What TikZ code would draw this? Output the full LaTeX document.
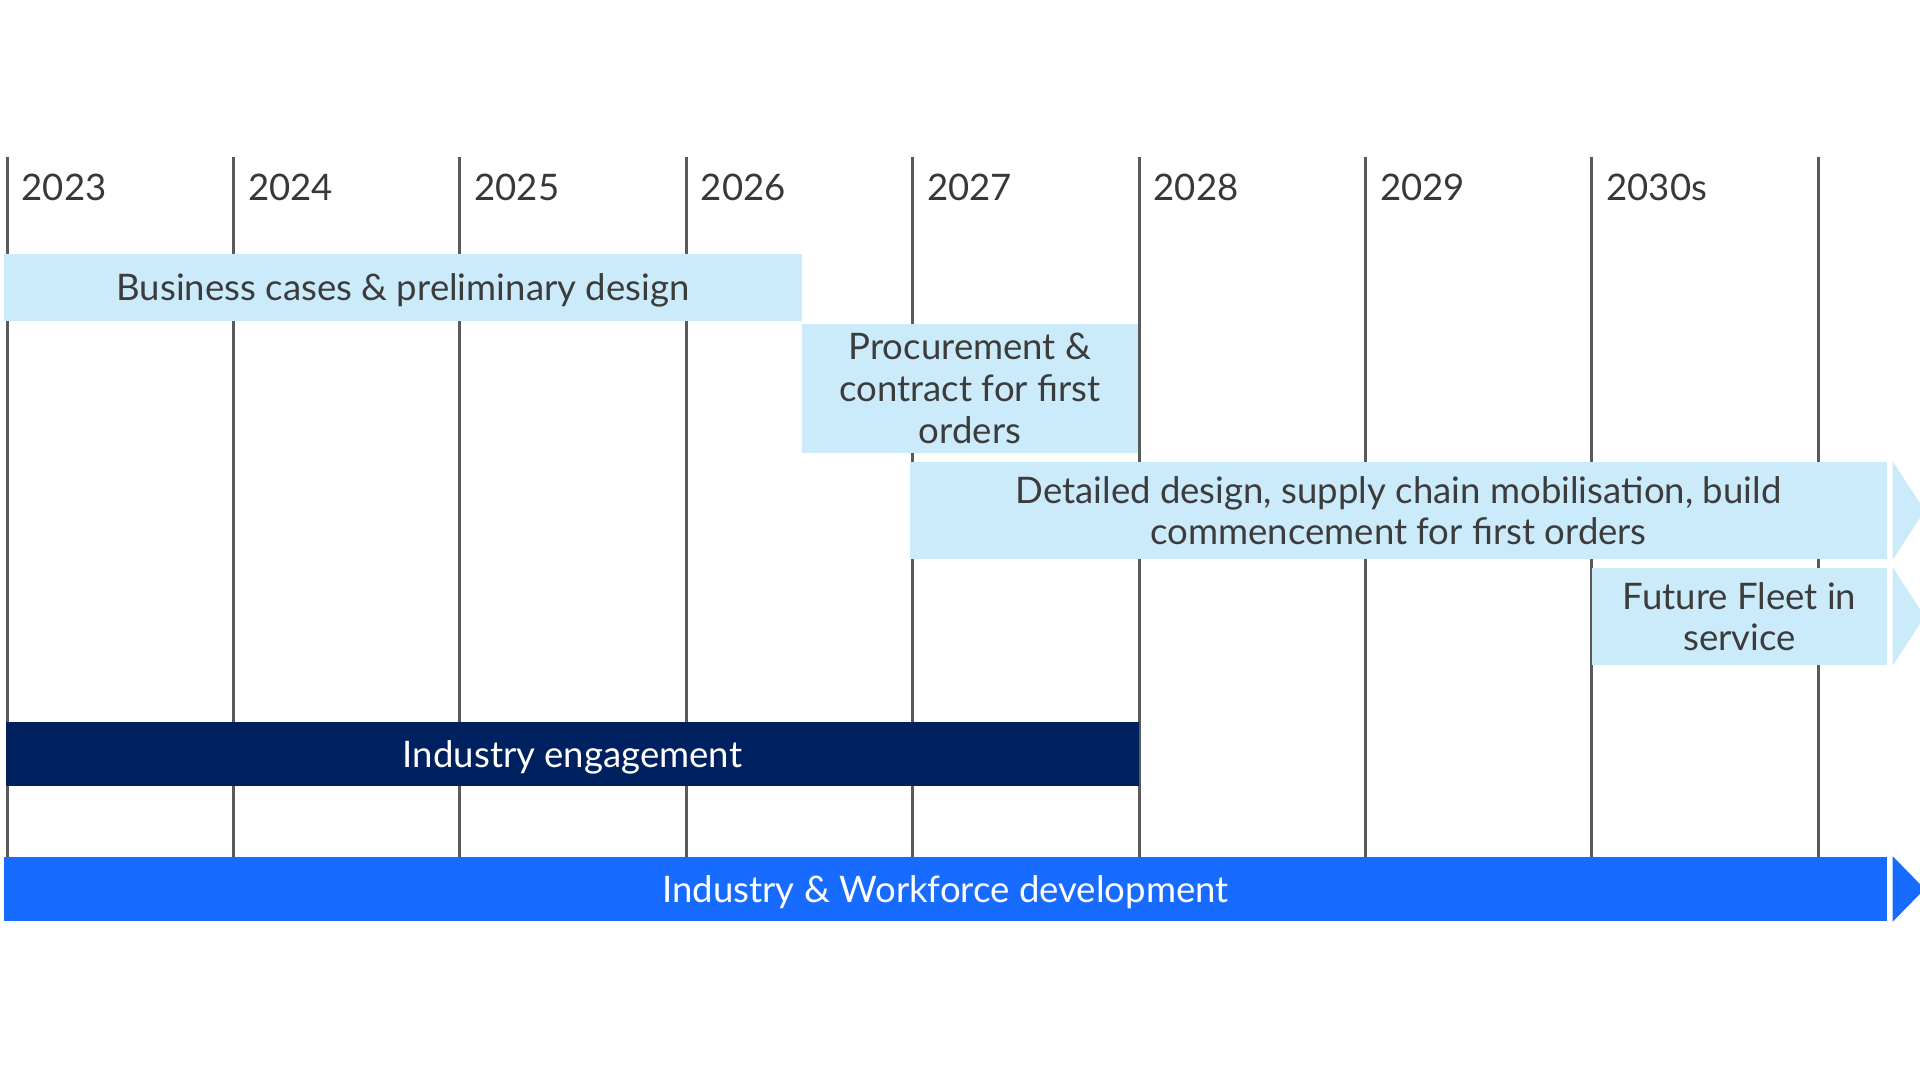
\documentclass[tikz,border=0pt]{standalone}
\usepackage{fontspec}
\setmainfont{Lato}
\definecolor{gridgrey}{HTML}{5A5A5A}
\definecolor{yeargrey}{HTML}{383838}
\definecolor{boxtext}{HTML}{3C3C3C}
\definecolor{paleblue}{HTML}{CCEBFA}
\definecolor{navyblue}{HTML}{00215F}
\definecolor{brightblue}{HTML}{176BFF}
\tikzset{
  gridline/.style={line width=0.03cm, draw=gridgrey},
  yearlabel/.style={anchor=base west, inner sep=0pt, text=yeargrey},
  phasebox/.style={fill=paleblue, text=boxtext, inner sep=0pt, align=center, text depth=0pt},
  darkbox/.style={fill=navyblue, text=white, inner sep=0pt, align=center, text depth=0pt},
  brightbox/.style={fill=brightblue, text=white, inner sep=0pt, align=center, text depth=0pt}
}
\begin{document}
\begin{tikzpicture}
                    \useasboundingbox (0,0) rectangle (19.200000,10.800000);
                    {\fontsize{10.4}{11.9}\selectfont

                    % Drawing year lines
                    \draw [gridline] (0.070000,9.230000) -- (0.070000,2.200000);%
                    \draw [gridline] (2.334000,9.230000) -- (2.334000,2.200000);%
                    \draw [gridline] (4.598000,9.230000) -- (4.598000,2.200000);%
                    \draw [gridline] (6.862000,9.230000) -- (6.862000,2.200000);%
                    \draw [gridline] (9.126000,9.230000) -- (9.126000,2.200000);%
                    \draw [gridline] (11.390000,9.230000) -- (11.390000,2.200000);%
                    \draw [gridline] (13.654000,9.230000) -- (13.654000,2.200000);%
                    \draw [gridline] (15.918000,9.230000) -- (15.918000,2.200000);%
                    \draw [gridline] (18.182000,9.230000) -- (18.182000,2.200000);%

                    % Marking years
                    \node [yearlabel] (y2023) at (0.210000,8.790000) {2023};%
                    \node [yearlabel] (y2024) at (2.474000,8.790000) {2024};%
                    \node [yearlabel] (y2025) at (4.738000,8.790000) {2025};%
                    \node [yearlabel] (y2026) at (7.002000,8.790000) {2026};%
                    \node [yearlabel] (y2027) at (9.266000,8.790000) {2027};%
                    \node [yearlabel] (y2028) at (11.530000,8.790000) {2028};%
                    \node [yearlabel] (y2029) at (13.794000,8.790000) {2029};%
                    \node [yearlabel] (y2030s) at (16.058000,8.790000) {2030s};%

                    % Drawing phase business cases
                    \node [phasebox, minimum width=7.980000cm, minimum height=0.670000cm] (business) at (4.030000,7.925000) {Business cases \& preliminary design};%

                    % Drawing phase procurement
                    \node [phasebox, minimum width=3.360000cm, minimum height=1.290000cm] (procurement) at (9.700000,6.915000) {Procurement \&\\contract for first\\orders};%

                    % Drawing phase detailed design and its arrow
                    \node [phasebox, minimum width=9.770000cm, minimum height=0.970000cm] (detailed) at (13.985000,5.695000) {Detailed design, supply chain mobilisation, build\\commencement for first orders};%
                    \fill [paleblue] ([xshift=0.05cm]detailed.north east) -- ([xshift=0.05cm]detailed.south east) -- ([xshift=0.37cm]detailed.east) -- cycle;%

                    % Drawing phase future fleet and its arrow
                    \node [phasebox, minimum width=2.950000cm, minimum height=0.970000cm] (fleet) at (17.395000,4.635000) {Future Fleet in\\service};%
                    \fill [paleblue] ([xshift=0.05cm]fleet.north east) -- ([xshift=0.05cm]fleet.south east) -- ([xshift=0.37cm]fleet.east) -- cycle;%

                    % Drawing industry engagement
                    \node [darkbox, minimum width=11.330000cm, minimum height=0.640000cm] (engagement) at (5.725000,3.260000) {Industry engagement};%

                    % Drawing industry and workforce development and its arrow
                    \node [brightbox, minimum width=18.830000cm, minimum height=0.640000cm] (workforce) at (9.455000,1.910000) {Industry \& Workforce development};%
                    \fill [brightblue] ([xshift=0.05cm]workforce.north east) -- ([xshift=0.05cm]workforce.south east) -- ([xshift=0.37cm]workforce.east) -- cycle;%
                    }
\end{tikzpicture}
\end{document}
